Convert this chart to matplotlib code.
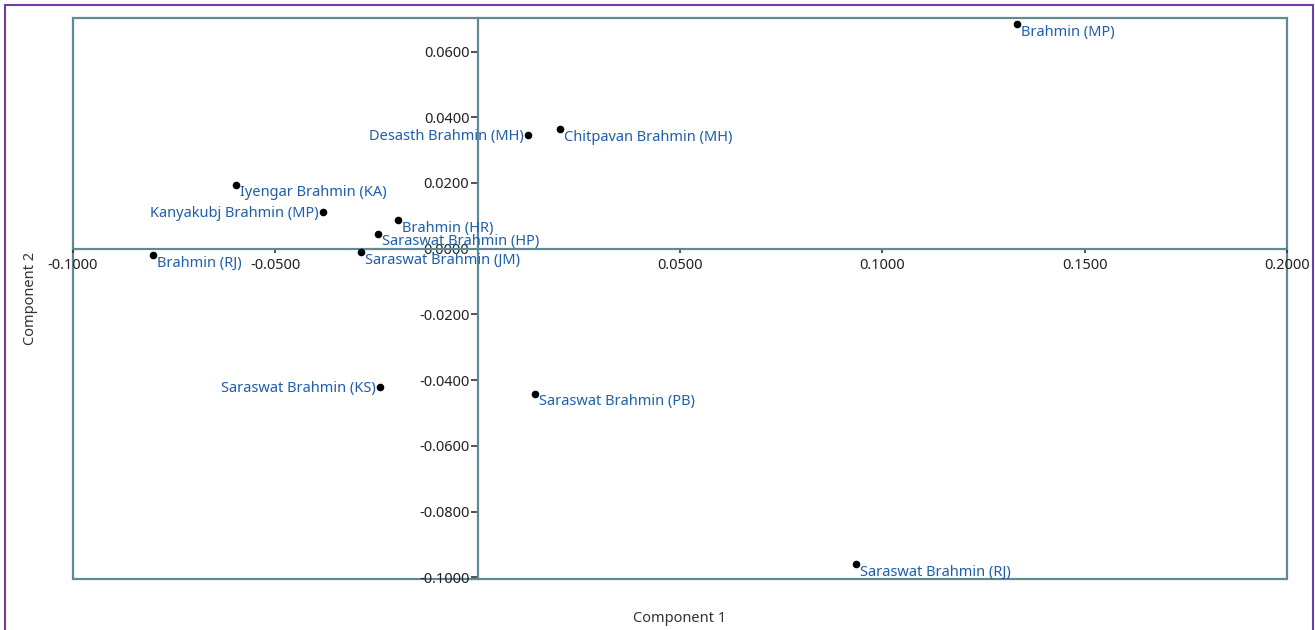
import matplotlib
matplotlib.use("Agg")
import matplotlib.pyplot as plt
from matplotlib.patches import Rectangle

# PCA scores
names = [
    "Brahmin (MP)", "Chitpavan Brahmin (MH)", "Desasth Brahmin (MH)",
    "Iyengar Brahmin (KA)", "Kanyakubj Brahmin (MP)", "Brahmin (HR)",
    "Saraswat Brahmin (HP)", "Saraswat Brahmin (JM)", "Brahmin (RJ)",
    "Saraswat Brahmin (KS)", "Saraswat Brahmin (PB)", "Saraswat Brahmin (RJ)",
]
comp1 = [0.1333, 0.0203, 0.0124, -0.0597, -0.0382, -0.0197,
         -0.0246, -0.0288, -0.0802, -0.0242, 0.0142, 0.0935]
comp2 = [0.0684, 0.0365, 0.0347, 0.0195, 0.0112, 0.0088,
         0.0046, -0.0009, -0.0018, -0.0422, -0.0441, -0.0960]
left_labels = ["Desasth Brahmin (MH)", "Kanyakubj Brahmin (MP)", "Saraswat Brahmin (KS)"]

xticks = [-0.1, -0.05, 0.05, 0.1, 0.15, 0.2]
yticks = [0.06, 0.04, 0.02, 0.0, -0.02, -0.04, -0.06, -0.08, -0.1]

axis_col = "#5f8a94"
label_col = "#1f5eaa"
plt.rcParams["font.family"] = ["Noto Sans", "DejaVu Sans"]

fig = plt.figure(figsize=(13.15, 6.30), dpi=100)
ax = fig.add_axes([73 / 1315, 1 - 579 / 630, (1287 - 73) / 1315, (579 - 18) / 630])

ax.scatter(comp1, comp2, s=20, color="black", zorder=3)
for n, x, y in zip(names, comp1, comp2):
    if n in left_labels:
        ax.annotate(n, (x, y), xytext=(-3, -1), textcoords="offset points",
                    ha="right", va="center", color=label_col, fontsize=10.5)
    else:
        ax.annotate(n, (x, y), xytext=(3, -6), textcoords="offset points",
                    ha="left", va="center", color=label_col, fontsize=10.5)

ax.set_xlim(-0.1, 0.2)
ax.set_ylim(-0.1005, 0.0702)

for s in ["top", "right"]:
    ax.spines[s].set_visible(False)
for s in ["left", "bottom"]:
    ax.spines[s].set_position(("data", 0))
    ax.spines[s].set_color(axis_col)
    ax.spines[s].set_linewidth(1.6)
ax.add_patch(Rectangle((0, 0), 1, 1, transform=ax.transAxes, fill=False,
                       edgecolor=axis_col, linewidth=1.6, clip_on=False, zorder=1))

ax.set_xticks(xticks)
ax.set_xticklabels([f"{v:.4f}" for v in xticks])
ax.set_yticks(yticks)
ax.set_yticklabels([f"{v:.4f}" for v in yticks])
ax.tick_params(axis="both", direction="out", length=5, width=1.2, color="#333333",
               labelsize=10.5, labelcolor="#222222")
ax.tick_params(axis="x", pad=4, length=3)
ax.tick_params(axis="y", pad=1)

fig.text(680 / 1315, 1 - 619 / 630, "Component 1", ha="center", va="center",
         fontsize=10.5, color="#333333")
fig.text(30 / 1315, 1 - 298 / 630, "Component 2", ha="center", va="center",
         rotation=90, fontsize=10.5, color="#333333")

fig.add_artist(Rectangle((5 / 1315, -0.05), 1308 / 1315, 1.05 - 5 / 630,
                         transform=fig.transFigure, fill=False,
                         edgecolor="#6a3fa8", linewidth=1.5))

fig.savefig("out.png", dpi=100)
